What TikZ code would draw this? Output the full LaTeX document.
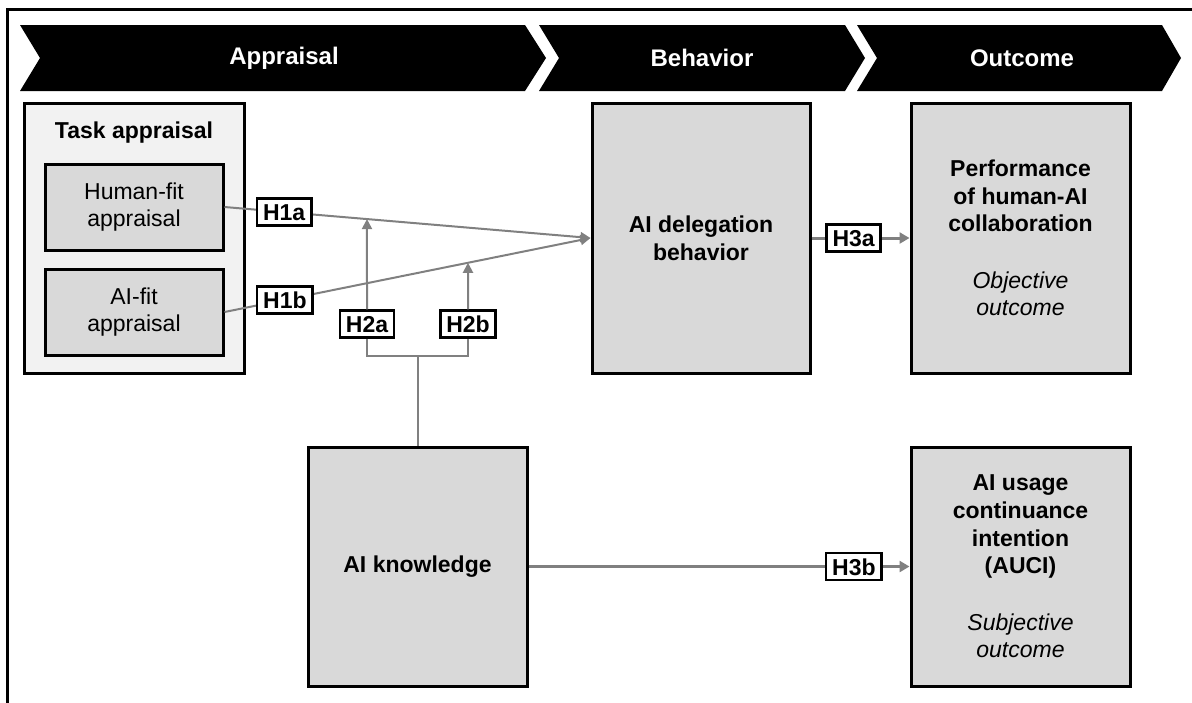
\documentclass[tikz,border=0pt]{standalone}
\usepackage{fontspec}
\setmainfont{Liberation Sans}
\usetikzlibrary{arrows.meta,calc}
\definecolor{boxgray}{HTML}{D9D9D9}
\definecolor{panelgray}{HTML}{F2F2F2}
\definecolor{linkgray}{HTML}{808080}
\newcommand{\figfont}{\fontsize{23pt}{27.6pt}\selectfont}
\begin{document}
\begin{tikzpicture}[x=1pt,y=-1pt,
  every node/.style={font=\figfont},
  construct/.style={draw=black, line width=3pt, fill=boxgray, align=center, inner sep=0pt},
  boldconstruct/.style={construct, font=\figfont\bfseries},
  panel/.style={draw=black, line width=3pt, fill=panelgray, inner sep=0pt},
  hyp/.style={draw=black, line width=2.5pt, fill=white, font=\figfont\bfseries,
    inner xsep=6pt, inner ysep=5pt, text height=17pt, text depth=0pt},
  link/.style={draw=linkgray, line width=2pt},
  arrowlink/.style={link, -{Triangle[length=10pt,width=10pt]}},
  heavylink/.style={link, line width=3pt, -{Triangle[length=10pt,width=11pt]}},
  phaselabel/.style={text=white, font=\fontsize{24pt}{28pt}\selectfont\bfseries}
]
\useasboundingbox (0,0) rectangle (1192,702);
\clip (0,0) rectangle (1192,702);

% outer frame
\draw[line width=3pt] (7.5,9.5) rectangle (1260,780);

% phase chevrons
\fill[black] (20,25) -- (525,25) -- (546,58) -- (525,91) -- (20,91) -- (40,58) -- cycle;
\fill[black] (539,25) -- (845,25) -- (865,58) -- (845,91) -- (539,91) -- (559,58) -- cycle;
\fill[black] (857,25) -- (1162,25) -- (1181,58) -- (1162,91) -- (857,91) -- (877,58) -- cycle;
\node[phaselabel] (appraisal) at (284,58) {Appraisal};
\node[phaselabel] (behavior) at (702,58) {Behavior};
\node[phaselabel] (outcome) at (1022,58) {Outcome};

% task appraisal panel
\node[panel, minimum width=220pt, minimum height=270pt] (task) at (134,238) {};
\node[font=\figfont\bfseries] (tasktitle) at (134,133) {Task appraisal};
\node[construct, minimum width=178pt, minimum height=86pt] (hf) at (134,207) {Human-fit\\appraisal};
\node[construct, minimum width=178pt, minimum height=86pt] (af) at (134,312) {AI-fit\\appraisal};

% constructs
\node[boldconstruct, minimum width=218pt, minimum height=270pt] (deleg) at (701,238) {AI delegation\\behavior};
\node[boldconstruct, minimum width=219pt, minimum height=270pt] (perf) at (1020.5,238)
  {Performance\\of human-AI\\collaboration\\[29pt]{\mdseries\itshape Objective}\\{\mdseries\itshape outcome}};
\node[boldconstruct, minimum width=219pt, minimum height=239pt] (ak) at (417.5,566.5) {AI knowledge};
\node[boldconstruct, minimum width=219pt, minimum height=239pt] (auci) at (1020.5,566.5)
  {AI usage\\continuance\\intention\\(AUCI)\\[29pt]{\mdseries\itshape Subjective}\\{\mdseries\itshape outcome}};

% moderation labels
\node[hyp] (h2a) at (367,324) {H2a};
\node[hyp] (h2b) at (468,324) {H2b};
\coordinate (fork) at (417.5,356);

% links
\draw[arrowlink] (hf.east) -- (deleg.west);
\draw[arrowlink] (af.east) -- (deleg.west);
\draw[arrowlink] (h2a.north) -- (intersection of hf.east--deleg.west and h2a.south--h2a.north);
\draw[arrowlink] (h2b.north) -- (intersection of af.east--deleg.west and h2b.south--h2b.north);
\draw[link] (h2a.south) -- (h2a.south |- fork) -- (h2b.south |- fork) -- (h2b.south);
\draw[link] (ak.north) -- (fork);
\draw[heavylink] (deleg.east) -- (perf.west);
\draw[heavylink] (ak.east) -- (auci.west);

% path labels
\path (hf.east) -- node[hyp, pos=0.163] (h1a) {H1a} (deleg.west);
\path (af.east) -- node[hyp, pos=0.165] (h1b) {H1b} (deleg.west);
\path (deleg.east) -- node[hyp, pos=0.43] (h3a) {H3a} (perf.west);
\path (ak.east) -- node[hyp, pos=0.854] (h3b) {H3b} (auci.west);
\end{tikzpicture}
\end{document}
